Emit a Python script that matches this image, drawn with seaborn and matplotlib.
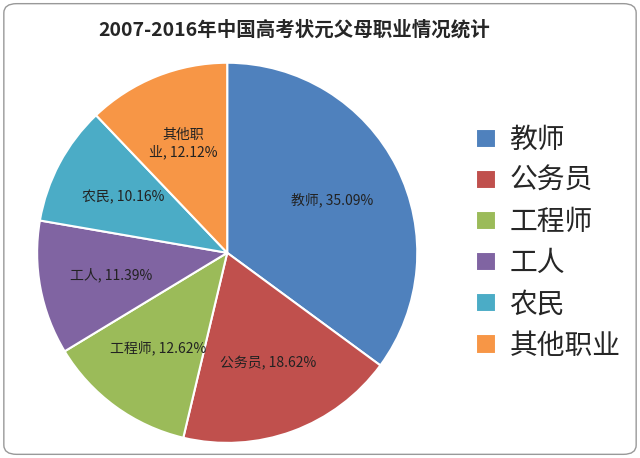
import matplotlib
matplotlib.use("Agg")
import matplotlib.pyplot as plt
import seaborn as sns
from matplotlib.patches import FancyBboxPatch

categories = ["教师", "公务员", "工程师", "工人", "农民", "其他职业"]
values = [35.09, 18.62, 12.62, 11.39, 10.16, 12.12]
slice_labels = ["教师, 35.09%", "公务员, 18.62%", "工程师, 12.62%", "工人, 11.39%", "农民, 10.16%", "其他职\n业, 12.12%"]
colors = ["#4F81BD", "#C0504D", "#9BBB59", "#8064A2", "#4BACC6", "#F79646"]

sns.set_theme(style="white")
plt.rcParams["font.family"] = "Noto Sans CJK SC"

fig = plt.figure(figsize=(6.4, 4.58), dpi=100)
fig.patches.append(FancyBboxPatch((0.006, 0.008), 0.988, 0.984, boxstyle="round,pad=0,rounding_size=0.02",
                                  transform=fig.transFigure, fill=False, edgecolor="#999999", lw=1))
ax = fig.add_axes([0.058, 0.033, 0.594, 0.83])
wedges, texts = ax.pie(values, colors=colors, startangle=90, counterclock=False,
                       labels=slice_labels, labeldistance=0.62,
                       wedgeprops=dict(edgecolor="white", linewidth=1.5),
                       textprops=dict(fontsize=10, color="#222222", ha="center", va="center"))
for t in texts:
    t.set_ha("center")
ax.set_aspect("equal")
ax.set_xlim(-1.0, 1.0)
ax.set_ylim(-1.0, 1.0)
fig.text(0.46, 0.935, "2007-2016年中国高考状元父母职业情况统计", ha="center", va="center",
         fontsize=14, fontweight="bold")
fig.legend(wedges, categories, loc="center left", bbox_to_anchor=(0.705, 0.47), frameon=False,
           fontsize=20, handlelength=0.7, handleheight=0.7, labelspacing=0.4, handletextpad=0.5)
fig.savefig("out.png", dpi=100)
